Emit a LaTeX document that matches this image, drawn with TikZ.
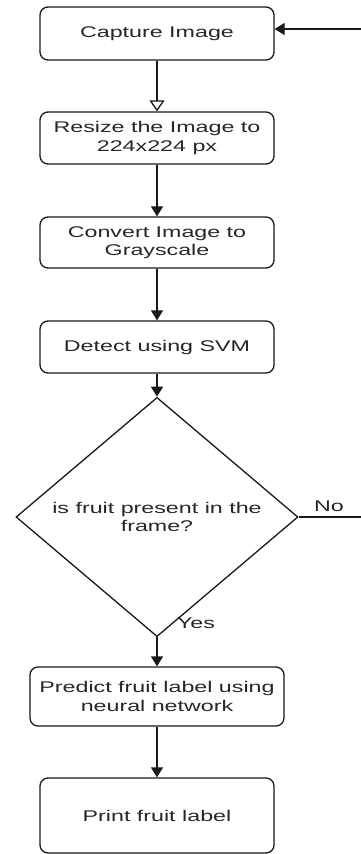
\documentclass[tikz,border=0pt]{standalone}
\usepackage{fontspec}
\setmainfont{Liberation Sans}[FakeStretch=1.5]
\usetikzlibrary{shapes.geometric,arrows.meta}

\tikzset{
  stepbox/.style={draw=black!90, line width=1.3pt, rounded corners=8pt,
    minimum width=234pt, align=center, text=black!85, inner sep=2pt,
    font=\fontsize{15.5}{18.5}\selectfont},
  decision/.style={draw=black!90, line width=1.3pt, diamond, inner sep=0pt,
    minimum width=282pt, minimum height=182pt, align=center, text=black!85,
    font=\fontsize{15.5}{18.5}\selectfont},
  flow/.style={draw=black!90, line width=1.3pt, -{Triangle[width=12pt,length=10pt]}},
  openflow/.style={draw=black!90, line width=1.3pt, -{Triangle[open,width=15pt,length=11pt]}},
  tag/.style={text=black!85, font=\fontsize{15.5}{18.5}\selectfont}
}

\begin{document}
\begin{tikzpicture}[x=1pt, y=-1pt]
  \useasboundingbox (0,0) rectangle (360,854);

  % process steps
  \node[stepbox, minimum height=53pt] (cap) at (157,33.5) {Capture Image};
  \node[stepbox, minimum height=52pt] (res) at (157,138) {Resize the Image to\\224x224 px};
  \node[stepbox, minimum height=51pt] (gray) at (157,242.5) {Convert Image to\\Grayscale};
  \node[stepbox, minimum height=52pt] (svm) at (157,347) {Detect using SVM};
  \node[decision] (dec) at (157,517) {is fruit present in the\\frame?};
  \node[stepbox, minimum width=254pt, minimum height=59pt] (pred) at (157,696.5) {Predict fruit label using\\neural network};
  \node[stepbox, minimum height=75pt] (out) at (157,815.5) {Print fruit label};

  % main flow
  \draw[openflow] (cap) -- (res);
  \draw[flow] (res) -- (gray);
  \draw[flow] (gray) -- (svm);
  \draw[flow] (svm) -- (dec);
  \draw[flow] (dec) -- (pred);
  \draw[flow] (pred) -- (out);

  % loop back when no fruit is found
  \coordinate (rb) at (362,517);
  \coordinate (rt) at (362,29);
  \draw[flow] (dec.east) -- (rb) -- (rt) -- (rt -| cap.east);

  % branch labels
  \node[tag] (no) at (329,506) {No};
  \node[tag] (yes) at (196,623) {Yes};
\end{tikzpicture}
\end{document}
